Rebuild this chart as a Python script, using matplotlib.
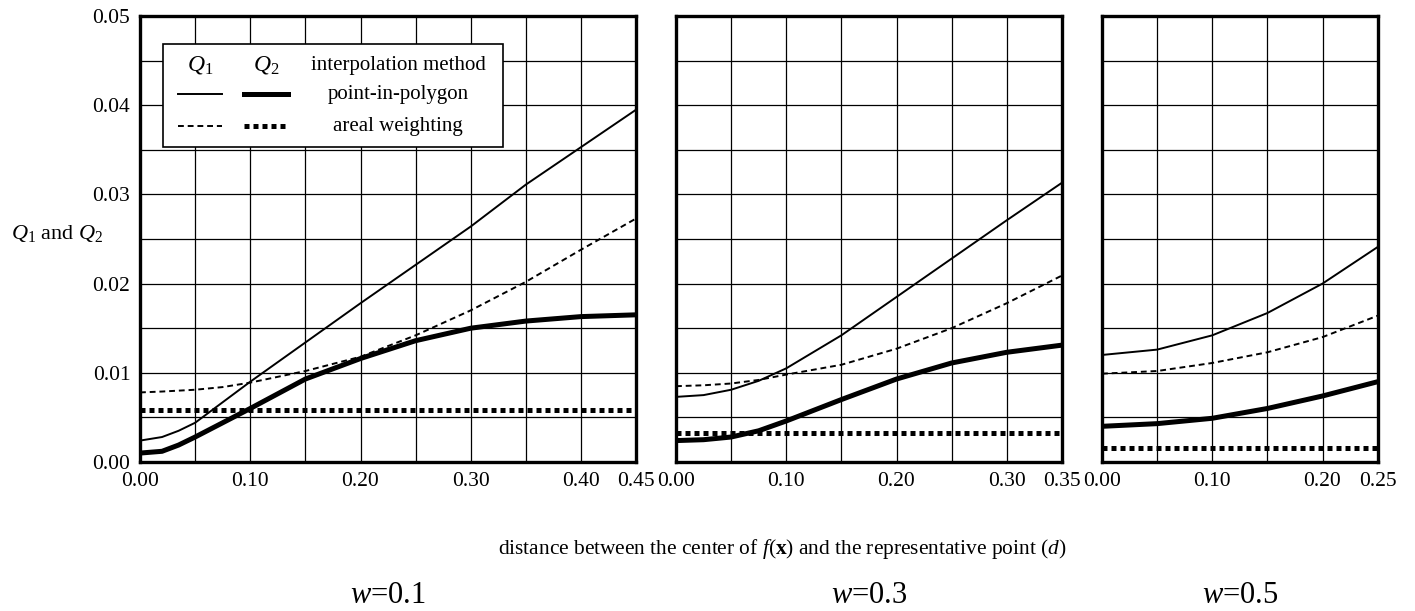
import numpy as np
import matplotlib.pyplot as plt
from matplotlib.lines import Line2D
from matplotlib.patches import Rectangle

plt.rcParams['font.family'] = 'Liberation Serif'
plt.rcParams['mathtext.fontset'] = 'custom'
plt.rcParams['mathtext.rm'] = 'Liberation Serif'
plt.rcParams['mathtext.it'] = 'Liberation Serif:italic'
plt.rcParams['mathtext.bf'] = 'Liberation Serif:bold'

# distance d and the Q values
d_w01 = [0.00, 0.02, 0.035, 0.05, 0.075, 0.10, 0.15, 0.20, 0.25, 0.30, 0.35, 0.40, 0.45]
q1_pip_w01 = [0.0024, 0.0028, 0.0035, 0.0044, 0.0067, 0.0090, 0.0134, 0.0178, 0.0221, 0.0264, 0.0311, 0.0353, 0.0395]
q1_aw_w01 = [0.0078, 0.0079, 0.0080, 0.0081, 0.0084, 0.0089, 0.0102, 0.0118, 0.0142, 0.0170, 0.0202, 0.0238, 0.0273]
q2_pip_w01 = [0.0010, 0.0012, 0.0019, 0.0028, 0.0044, 0.0060, 0.0093, 0.0116, 0.0136, 0.0150, 0.0158, 0.0163, 0.0165]
q2_aw_w01 = [0.0058] * 13

d_w03 = [0.00, 0.025, 0.05, 0.075, 0.10, 0.15, 0.20, 0.25, 0.30, 0.35]
q1_pip_w03 = [0.0073, 0.0075, 0.0081, 0.0091, 0.0105, 0.0142, 0.0185, 0.0228, 0.0271, 0.0313]
q1_aw_w03 = [0.0085, 0.0086, 0.0088, 0.0092, 0.0098, 0.0109, 0.0127, 0.0150, 0.0178, 0.0209]
q2_pip_w03 = [0.0024, 0.0025, 0.0028, 0.0035, 0.0046, 0.0070, 0.0093, 0.0111, 0.0123, 0.0131]
q2_aw_w03 = [0.0033] * 10

d_w05 = [0.00, 0.05, 0.10, 0.15, 0.20, 0.25]
q1_pip_w05 = [0.0120, 0.0126, 0.0142, 0.0167, 0.0200, 0.0241]
q1_aw_w05 = [0.0099, 0.0102, 0.0111, 0.0123, 0.0140, 0.0164]
q2_pip_w05 = [0.0040, 0.0043, 0.0049, 0.0060, 0.0074, 0.0090]
q2_aw_w05 = [0.0016] * 6

panels = [
    ('0.1', d_w01, q1_pip_w01, q1_aw_w01, q2_pip_w01, q2_aw_w01, 0.45),
    ('0.3', d_w03, q1_pip_w03, q1_aw_w03, q2_pip_w03, q2_aw_w03, 0.35),
    ('0.5', d_w05, q1_pip_w05, q1_aw_w05, q2_pip_w05, q2_aw_w05, 0.25),
]

thin = dict(color='black', lw=1.4)
thick = dict(color='black', lw=3.6)
thin_dash = (0, (3.0, 2.0))
thick_dot = (0, (1.0, 0.8))

fig = plt.figure(figsize=(14.15, 6.11), dpi=100)
lefts = [140, 676, 1102]
W, H = 1415, 611

axes = []
for (w, d, q1p, q1a, q2p, q2a, xmax), left in zip(panels, lefts):
    width = xmax * 1102.5
    ax = fig.add_axes([left / W, (611 - 462) / H, width / W, 446 / H])
    axes.append(ax)
    ax.plot(d, q1p, linestyle='-', **thin)
    ax.plot(d, q1a, linestyle=thin_dash, **thin)
    ax.plot(d, q2p, linestyle='-', solid_capstyle='butt', **thick)
    ax.plot(d, q2a, linestyle=thick_dot, dash_capstyle='butt', **thick)

    ax.set_xlim(0, xmax)
    ax.set_ylim(0, 0.05)
    ax.set_xticks(np.arange(0, xmax + 1e-9, 0.05), minor=True)
    major = list(np.arange(0, xmax - 0.04, 0.10))
    if abs(major[-1] - xmax) > 1e-9:
        major.append(xmax)
    ax.set_xticks(major)
    ax.set_xticklabels(['%.2f' % v for v in major])
    ax.set_yticks(np.arange(0, 0.0501, 0.01))
    ax.set_yticks(np.arange(0, 0.0501, 0.005), minor=True)
    ax.grid(which='both', color='black', lw=0.9)
    ax.tick_params(which='both', length=0, labelsize=15.5, pad=7)
    for s in ax.spines.values():
        s.set_linewidth(2.4)
    ax.set_axisbelow(True)
    if left != 140:
        ax.set_yticklabels([])
    else:
        ax.set_yticklabels(['%.2f' % v for v in np.arange(0, 0.0501, 0.01)])
    ax.text(0.5, -0.30, r'$\mathit{w}$=' + w, transform=ax.transAxes,
            ha='center', va='center', fontsize=22)

axes[0].set_ylabel(r'$\mathit{Q}_1$ and $\mathit{Q}_2$', rotation=0, fontsize=16,
                   ha='center', va='center')
axes[0].yaxis.set_label_coords(-0.167, 0.513)
fig.text(782 / W, (611 - 549) / H,
         r'distance between the center of $\mathit{f}$($\mathbf{x}$) and the representative point ($\mathit{d}$)',
         ha='center', va='center', fontsize=15.4)

# legend box drawn as a small table
ax = axes[0]
tr = ax.transAxes
ax.add_patch(Rectangle((0.046, 0.706), 0.686, 0.231, transform=tr, facecolor='white',
                       edgecolor='black', lw=1.2, zorder=5))
ax.text(0.121, 0.890, r'$\mathit{Q}_1$', transform=tr, ha='center', va='center', fontsize=17, zorder=6)
ax.text(0.255, 0.890, r'$\mathit{Q}_2$', transform=tr, ha='center', va='center', fontsize=17, zorder=6)
ax.text(0.520, 0.890, 'interpolation method', transform=tr, ha='center', va='center', fontsize=15, zorder=6)
ax.text(0.520, 0.825, 'point-in-polygon', transform=tr, ha='center', va='center', fontsize=15, zorder=6)
ax.text(0.520, 0.753, 'areal weighting', transform=tr, ha='center', va='center', fontsize=15, zorder=6)
ax.add_line(Line2D([0.077, 0.165], [0.825, 0.825], transform=tr, zorder=6, linestyle='-', **thin))
ax.add_line(Line2D([0.210, 0.298], [0.825, 0.825], transform=tr, zorder=6, linestyle='-', **thick))
ax.add_line(Line2D([0.077, 0.165], [0.753, 0.753], transform=tr, zorder=6, linestyle=thin_dash, **thin))
ax.add_line(Line2D([0.210, 0.298], [0.753, 0.753], transform=tr, zorder=6, linestyle=thick_dot,
                   dash_capstyle='butt', **thick))

fig.savefig('out.png', dpi=100)
